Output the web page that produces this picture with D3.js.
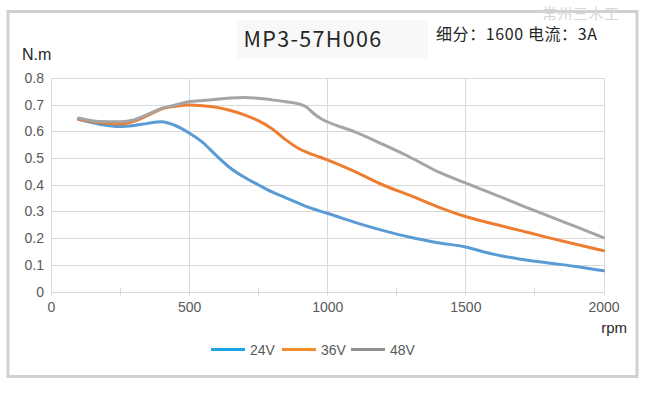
<!DOCTYPE html>
<html>
<head>
<meta charset="utf-8">
<script src="https://cdn.jsdelivr.net/npm/d3@7/dist/d3.min.js"></script>
<style>
  html, body { margin: 0; padding: 0; background: #fff; }
  svg { display: block; }
</style>
</head>
<body>
<svg id="chart" width="651" height="393"></svg>
<script>
// ---- data ----
const rpm = [100, 175, 250, 300, 350, 400, 450, 500, 550, 600, 650, 700, 750, 800, 850, 900, 925, 950, 975, 1000, 1100, 1200, 1300, 1400, 1500, 1600, 1700, 1800, 1900, 2000];
const torque24V = [0.645, 0.627, 0.618, 0.622, 0.630, 0.636, 0.622, 0.594, 0.558, 0.508, 0.462, 0.428, 0.400, 0.373, 0.351, 0.329, 0.318, 0.309, 0.301, 0.293, 0.259, 0.229, 0.203, 0.183, 0.167, 0.140, 0.121, 0.107, 0.094, 0.078];
const torque36V = [0.645, 0.633, 0.628, 0.638, 0.660, 0.684, 0.694, 0.699, 0.696, 0.690, 0.678, 0.662, 0.640, 0.610, 0.568, 0.534, 0.522, 0.512, 0.503, 0.493, 0.449, 0.400, 0.360, 0.317, 0.281, 0.254, 0.228, 0.202, 0.177, 0.153];
const torque48V = [0.650, 0.637, 0.636, 0.643, 0.664, 0.686, 0.699, 0.711, 0.716, 0.720, 0.725, 0.727, 0.724, 0.718, 0.711, 0.702, 0.691, 0.668, 0.649, 0.636, 0.598, 0.552, 0.503, 0.449, 0.407, 0.366, 0.324, 0.283, 0.243, 0.202];
const seriesNames = ["24V", "36V", "48V"];
const lineColors = ["#5b9bd5", "#ed7d31", "#a5a5a5"];
const legendColors = ["#1fa2e6", "#f28c28", "#8f8f8f"];
const xTicks = [0, 500, 1000, 1500, 2000];
const xMinorTicks = [250, 750, 1250, 1750];
const yTicks = [0, 0.1, 0.2, 0.3, 0.4, 0.5, 0.6, 0.7, 0.8];
const title = "MP3-57H006";
const subtitle = "细分：1600 电流：3A";
const watermark = "常州三木工";
const yLabel = "N.m";
const xLabel = "rpm";

const series = [torque24V, torque36V, torque48V].map((vals, i) => ({
  name: seriesNames[i],
  color: lineColors[i],
  legendColor: legendColors[i],
  points: rpm.map((r, j) => ({ x: r, y: vals[j] }))
}));

// ---- layout ----
const svg = d3.select("#chart");
const textColor = "#595959";
const gridColor = "#d9d9d9";
const axisFont = "'Liberation Sans', Arial, sans-serif";
const cjkFont = "'Noto Sans CJK SC', 'Noto Sans', sans-serif";

const x = d3.scaleLinear().domain([0, 2000]).range([51, 603.5]);
const y = d3.scaleLinear().domain([0, 0.8]).range([291.5, 78]);

// outer frame
svg.append("rect")
  .attr("x", 8).attr("y", 11.5).attr("width", 629).attr("height", 365)
  .attr("fill", "#fff").attr("stroke", "#cfd1d0").attr("stroke-width", 3);

// title background box
svg.append("rect")
  .attr("x", 237).attr("y", 20).attr("width", 191).attr("height", 38)
  .attr("fill", "#f8f8f8");

svg.append("text")
  .attr("x", 313).attr("y", 47)
  .attr("text-anchor", "middle")
  .attr("font-family", cjkFont)
  .attr("font-size", 21.5)
  .attr("letter-spacing", 1.3)
  .attr("fill", "#262626")
  .text(title);

svg.append("text")
  .attr("x", 436).attr("y", 39.5)
  .attr("font-family", cjkFont)
  .attr("font-size", 16)
  .attr("letter-spacing", 0.6)
  .attr("fill", "#262626")
  .text(subtitle);

svg.append("text")
  .attr("x", 542).attr("y", 18.5)
  .attr("font-family", cjkFont)
  .attr("font-size", 15)
  .attr("letter-spacing", 0.5)
  .attr("fill", "#d6d6d6")
  .text(watermark);

// gridlines
const g = svg.append("g");
g.selectAll("line.hgrid").data(yTicks).join("line")
  .attr("class", "hgrid")
  .attr("x1", x(0)).attr("x2", x(2000))
  .attr("y1", d => Math.round(y(d)) + 0.5).attr("y2", d => Math.round(y(d)) + 0.5)
  .attr("stroke", gridColor).attr("stroke-width", 1);

g.selectAll("line.vgrid").data(xTicks).join("line")
  .attr("class", "vgrid")
  .attr("x1", d => Math.round(x(d)) + 0.5).attr("x2", d => Math.round(x(d)) + 0.5)
  .attr("y1", y(0.8)).attr("y2", y(0) + 4)
  .attr("stroke", gridColor).attr("stroke-width", 1);

g.selectAll("line.minor").data(xMinorTicks).join("line")
  .attr("class", "minor")
  .attr("x1", d => Math.round(x(d)) + 0.5).attr("x2", d => Math.round(x(d)) + 0.5)
  .attr("y1", y(0) - 3.5).attr("y2", y(0) + 4)
  .attr("stroke", gridColor).attr("stroke-width", 1);

// y labels
svg.selectAll("text.ylab").data(yTicks).join("text")
  .attr("class", "ylab")
  .attr("x", 44).attr("y", d => y(d) + 5)
  .attr("text-anchor", "end")
  .attr("font-family", axisFont).attr("font-size", 14)
  .attr("fill", textColor)
  .text(d => d === 0 ? "0" : d3.format(".1f")(d));

// x labels
svg.selectAll("text.xlab").data(xTicks).join("text")
  .attr("class", "xlab")
  .attr("x", d => x(d) + 0.5).attr("y", 312)
  .attr("text-anchor", "middle")
  .attr("font-family", axisFont).attr("font-size", 14)
  .attr("fill", textColor)
  .text(d => d);

// axis titles
svg.append("text")
  .attr("x", 22).attr("y", 60)
  .attr("font-family", axisFont).attr("font-size", 16)
  .attr("fill", "#262626")
  .text(yLabel);

svg.append("text")
  .attr("x", 627).attr("y", 333)
  .attr("text-anchor", "end")
  .attr("font-family", axisFont).attr("font-size", 15)
  .attr("fill", "#262626")
  .text(xLabel);

// lines
const line = d3.line()
  .x(d => x(d.x)).y(d => y(d.y))
  .curve(d3.curveMonotoneX);

svg.append("g").selectAll("path").data(series).join("path")
  .attr("d", d => line(d.points))
  .attr("fill", "none")
  .attr("stroke", d => d.color)
  .attr("stroke-width", 3)
  .attr("stroke-linejoin", "round")
  .attr("stroke-linecap", "round");

// legend
const legendX = [211, 282, 351];
const leg = svg.append("g").selectAll("g").data(series).join("g")
  .attr("transform", (d, i) => `translate(${legendX[i]},349.5)`);
leg.append("line")
  .attr("x1", 0).attr("x2", 34)
  .attr("stroke", d => d.legendColor).attr("stroke-width", 3);
leg.append("text")
  .attr("x", 39).attr("y", 5)
  .attr("font-family", axisFont).attr("font-size", 14)
  .attr("fill", textColor)
  .text(d => d.name);
</script>
</body>
</html>
